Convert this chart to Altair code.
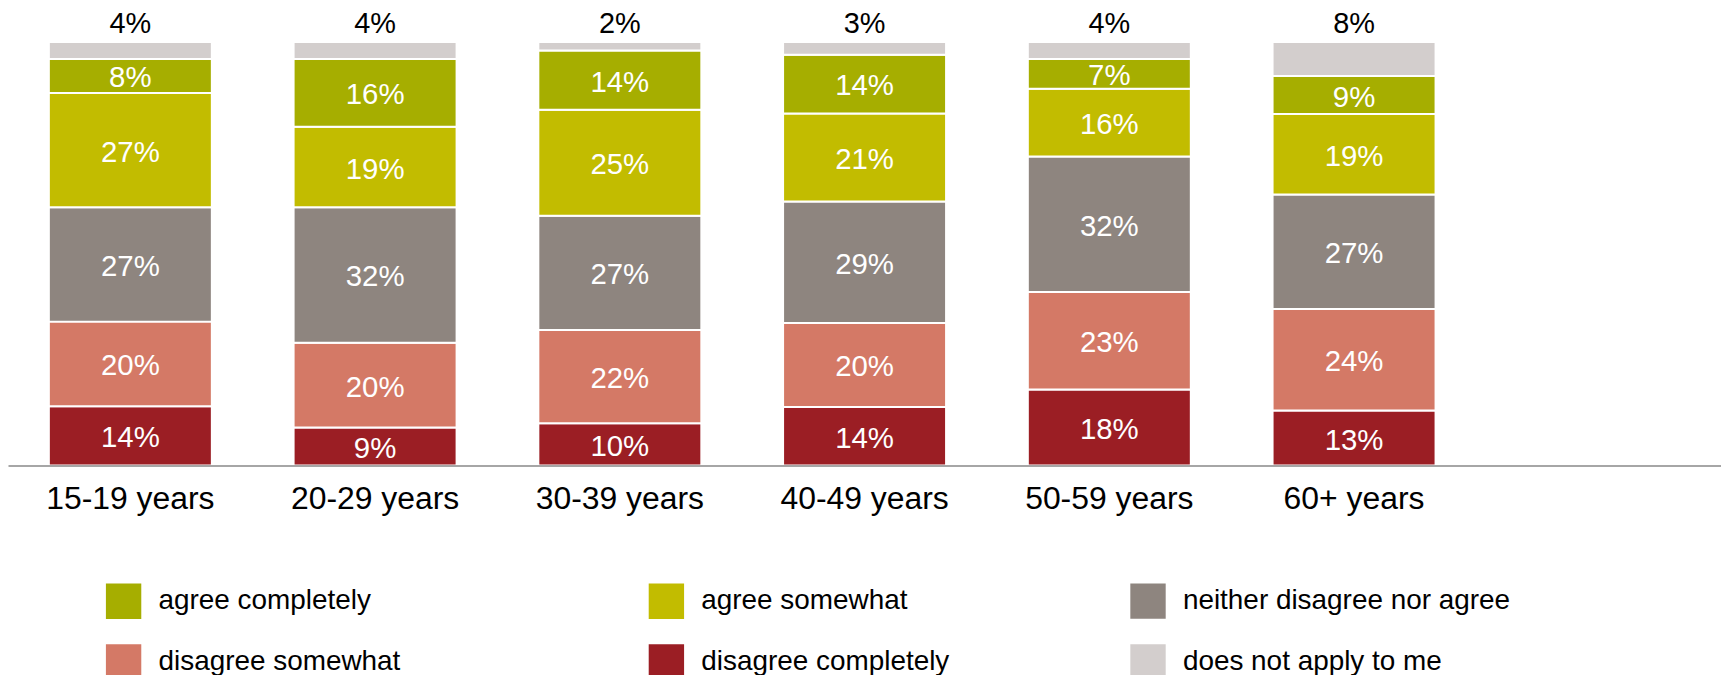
import altair as alt
import pandas as pd

ages = ["15-19 years", "20-29 years", "30-39 years", "40-49 years", "50-59 years", "60+ years"]

# stacked from bottom to top
responses = [
    "disagree completely",
    "disagree somewhat",
    "neither disagree nor agree",
    "agree somewhat",
    "agree completely",
    "does not apply to me",
]
colors = ["#9B1E24", "#D47966", "#8E857F", "#C2BC00", "#A6AE00", "#D3CECD"]

disagree_completely = [14, 9, 10, 14, 18, 13]
disagree_somewhat = [20, 20, 22, 20, 23, 24]
neither = [27, 32, 27, 29, 32, 27]
agree_somewhat = [27, 19, 25, 21, 16, 19]
agree_completely = [8, 16, 14, 14, 7, 9]
does_not_apply = [4, 4, 2, 3, 4, 8]

series = [disagree_completely, disagree_somewhat, neither, agree_somewhat, agree_completely, does_not_apply]

rows = []
for i, (resp, vals) in enumerate(zip(responses, series)):
    for a, v in zip(ages, vals):
        rows.append({"age": a, "response": resp, "order": i, "value": v, "label": f"{v}%"})
df = pd.DataFrame(rows)

FONT = "Liberation Sans"
DNA = "does not apply to me"
NEI = "neither disagree nor agree"

# legend entries are filled column by column
legend_left = ["agree completely", "disagree somewhat", "agree somewhat", "disagree completely"]
legend_right = [NEI, DNA]
right_colors = [colors[responses.index(r)] for r in legend_right]

base = alt.Chart(df).transform_stack(
    stack="value",
    groupby=["age"],
    as_=["y0", "y1"],
    offset="normalize",
    sort=[alt.SortField("order", order="ascending")],
).transform_calculate(mid="(datum.y0 + datum.y1) / 2")

xscale = alt.Scale(domain=ages, paddingInner=0.334, paddingOuter=0.6666, align=0.1252)
xaxis = alt.Axis(
    title=None, labelAngle=0, labelFont=FONT, labelFontSize=32, labelColor="black",
    ticks=False, tickSize=0, labelPadding=18, domainColor="#A6A6A6", domainWidth=2,
    zindex=1, grid=False,
)
x = alt.X("age:N", sort=ages, scale=xscale, axis=xaxis)
yscale = alt.Scale(domain=[0, 1], nice=False, zero=True)

common_legend = dict(
    title=None, orient="none", symbolType="square", symbolSize=1260,
    symbolStrokeWidth=0, labelFont=FONT, labelFontSize=28, labelColor="black",
    labelOffset=17, labelLimit=600, rowPadding=25, padding=0, gridAlign="each",
)

# same bars, only for the two right-hand legend entries (drawn underneath)
bars_right = base.transform_filter(
    alt.FieldOneOfPredicate(field="response", oneOf=legend_right)
).mark_bar(stroke="white", strokeWidth=2).encode(
    x=x,
    y=alt.Y("y0:Q", scale=yscale, axis=None),
    y2="y1:Q",
    fill=alt.Fill(
        "response:N",
        scale=alt.Scale(domain=legend_right, range=right_colors),
        legend=alt.Legend(legendX=1126, legendY=543, columns=1, values=legend_right, **common_legend),
    ),
)

bars = base.mark_bar(stroke="white", strokeWidth=2).encode(
    x=x,
    y=alt.Y("y0:Q", scale=yscale, axis=None),
    y2="y1:Q",
    color=alt.Color(
        "response:N",
        scale=alt.Scale(domain=responses, range=colors),
        legend=alt.Legend(legendX=98, legendY=543, columns=2, columnPadding=248.7,
                          values=legend_left, **common_legend),
    ),
)

inside = base.transform_filter(alt.datum.response != DNA).mark_text(
    color="white", font=FONT, fontSize=29.5, baseline="middle", dy=2.5
).encode(
    x=x,
    y=alt.Y("mid:Q", scale=yscale, axis=None),
    text="label:N",
)

top = base.transform_filter(alt.datum.response == DNA).mark_text(
    color="black", font=FONT, fontSize=29, baseline="alphabetic", dy=-9
).encode(
    x=x,
    y=alt.Y("y1:Q", scale=yscale, axis=None),
    text="label:N",
)

chart = alt.layer(bars_right, bars, inside, top).resolve_scale(
    color="independent", fill="independent"
).properties(
    width=1719,
    height=425,
    autosize=alt.AutoSizeParams(type="none"),
    padding={"left": 0, "top": 33, "right": 0, "bottom": 240},
    background="white",
).configure_view(stroke=None)

chart.save("out.html", embed_options={"renderer": "svg", "actions": False})
